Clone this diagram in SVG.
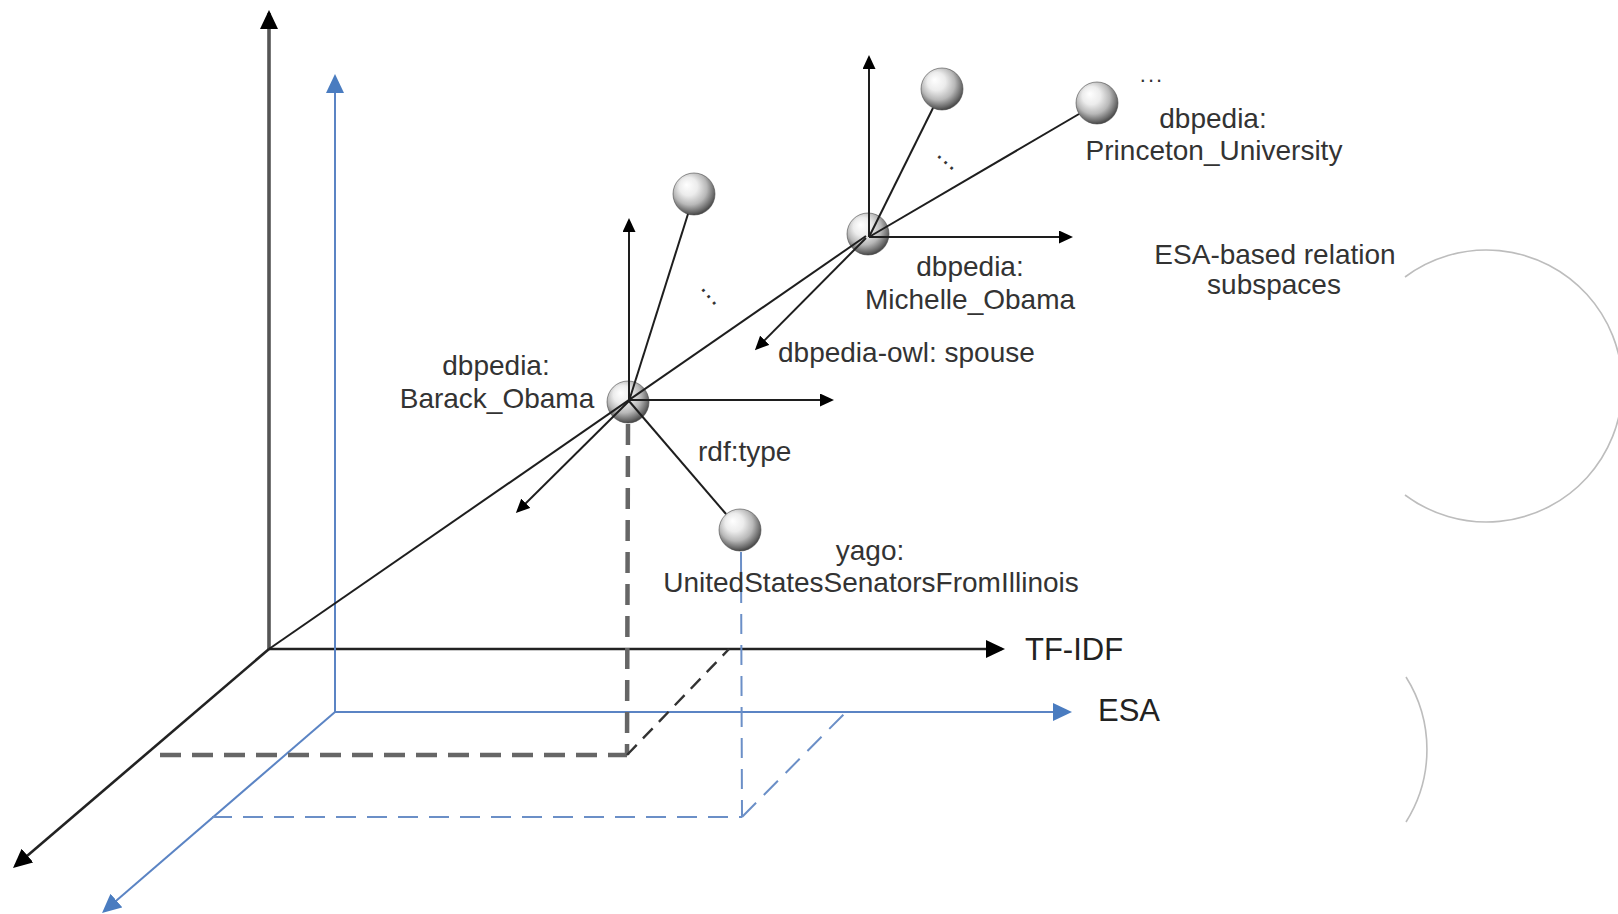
<svg xmlns="http://www.w3.org/2000/svg" width="1618" height="914" viewBox="0 0 1618 914">
  <style>
    text { font-family: "Liberation Sans", Arial, sans-serif; font-size: 28px; fill: #333; }
    .mid { text-anchor: middle; }
    .axis-label { font-size: 31px; fill: #222; }
    .axis-k { stroke: #222; stroke-width: 2.6; fill: none; }
    .axis-kv { stroke: #555; stroke-width: 3.6; fill: none; }
    .axis-b { stroke: #5b84c4; stroke-width: 2; fill: none; }
    .proj-k { stroke: #666; stroke-width: 4.5; stroke-dasharray: 21 11; fill: none; }
    .proj-kd { stroke: #333; stroke-width: 2.4; stroke-dasharray: 14 9; fill: none; }
    .proj-b { stroke: #6b8fc7; stroke-width: 2; stroke-dasharray: 20 11; fill: none; }
    .edge { stroke: #1e1e1e; stroke-width: 2; fill: none; }
    .arc { stroke: #bdbdbd; stroke-width: 1.6; fill: none; }
    .ball { fill: url(#ball); stroke: #4a4a4a; stroke-width: 0.6; }
  </style>
  <defs>
    <radialGradient id="ball" cx="45%" cy="40%" r="62%" fx="32%" fy="28%">
      <stop offset="0%" stop-color="#ffffff"/>
      <stop offset="35%" stop-color="#ececec"/>
      <stop offset="65%" stop-color="#b8b8b8"/>
      <stop offset="88%" stop-color="#6a6a6a"/>
      <stop offset="100%" stop-color="#3c3c3c"/>
    </radialGradient>
    <marker id="ah-big" markerUnits="userSpaceOnUse" markerWidth="19" markerHeight="18" viewBox="0 0 19 18" refX="16" refY="9" orient="auto">
      <path d="M0,0 L19,9 L0,18 z" fill="#000"/>
    </marker>
    <marker id="ah-blue" markerUnits="userSpaceOnUse" markerWidth="19" markerHeight="18" viewBox="0 0 19 18" refX="16" refY="9" orient="auto">
      <path d="M0,0 L19,9 L0,18 z" fill="#4a7cc0"/>
    </marker>
    <marker id="ah-small" markerUnits="userSpaceOnUse" markerWidth="14" markerHeight="13" viewBox="0 0 14 13" refX="11" refY="6.5" orient="auto">
      <path d="M0,0 L14,6.5 L0,13 z" fill="#000"/>
    </marker>
  </defs>

  <!-- outer coordinate frames: TF-IDF (black) and ESA (blue) -->
  <g id="axes">
    <line class="axis-kv" x1="269" y1="649" x2="269" y2="13" marker-end="url(#ah-big)"/>
    <line class="axis-k" x1="269" y1="649" x2="1002" y2="649" marker-end="url(#ah-big)"/>
    <line class="axis-k" x1="269" y1="649" x2="15.3" y2="866" marker-end="url(#ah-big)"/>
    <line class="axis-b" x1="335" y1="712" x2="335" y2="77" marker-end="url(#ah-blue)"/>
    <line class="axis-b" x1="335" y1="712" x2="1069" y2="712" marker-end="url(#ah-blue)"/>
    <line class="axis-b" x1="335" y1="712" x2="104.3" y2="911" marker-end="url(#ah-blue)"/>
    <text class="axis-label" x="1025" y="660">TF-IDF</text>
    <text class="axis-label" x="1098" y="721">ESA</text>
  </g>

  <!-- projections of the entities onto the base planes -->
  <g id="projections">
    <line class="proj-k" x1="160" y1="755" x2="627" y2="755"/>
    <line class="proj-k" x1="628" y1="424" x2="627" y2="755"/>
    <line class="proj-kd" x1="627" y1="755" x2="729" y2="649"/>
    <line class="proj-b" x1="212" y1="817" x2="742" y2="817"/>
    <line class="proj-b" x1="741" y1="552" x2="742" y2="817"/>
    <line class="proj-b" x1="742" y1="817" x2="846" y2="712"/>
  </g>

  <!-- entity nodes -->
  <g id="node-barack">
    <circle class="ball" cx="628" cy="402" r="21"/>
    <text class="mid" x="496" y="375">dbpedia:</text>
    <text class="mid" x="497" y="408">Barack_Obama</text>
  </g>
  <g id="node-barack-neighbour">
    <circle class="ball" cx="694" cy="194" r="21"/>
  </g>
  <g id="node-michelle">
    <circle class="ball" cx="868" cy="234" r="21"/>
    <text class="mid" x="970" y="276">dbpedia:</text>
    <text class="mid" x="970" y="309">Michelle_Obama</text>
  </g>
  <g id="node-michelle-neighbour">
    <circle class="ball" cx="942" cy="89" r="21"/>
  </g>
  <g id="node-princeton">
    <circle class="ball" cx="1097" cy="103" r="21"/>
    <text class="mid" x="1152" y="82" style="font-size:22px;letter-spacing:2px">...</text>
    <text class="mid" x="1213" y="128">dbpedia:</text>
    <text class="mid" x="1214" y="160">Princeton_University</text>
  </g>
  <g id="node-yago">
    <circle class="ball" cx="740" cy="530" r="21"/>
    <text class="mid" x="870" y="560">yago:</text>
    <text class="mid" x="871" y="592">UnitedStatesSenatorsFromIllinois</text>
  </g>

  <!-- relation edges and local relation axes -->
  <g id="connectors">
    <line class="edge" x1="269" y1="649" x2="866" y2="236"/>
    <line class="edge" x1="629" y1="401" x2="629" y2="221" marker-end="url(#ah-small)"/>
    <line class="edge" x1="629" y1="400" x2="831" y2="400" marker-end="url(#ah-small)"/>
    <line class="edge" x1="629" y1="401" x2="518" y2="511" marker-end="url(#ah-small)"/>
    <line class="edge" x1="629" y1="401" x2="688" y2="214"/>
    <line class="edge" x1="629" y1="401" x2="726" y2="514"/>
    <line class="edge" x1="869" y1="237" x2="869" y2="58" marker-end="url(#ah-small)"/>
    <line class="edge" x1="869" y1="237" x2="1070" y2="237" marker-end="url(#ah-small)"/>
    <line class="edge" x1="866" y1="238" x2="757" y2="348" marker-end="url(#ah-small)"/>
    <line class="edge" x1="869" y1="237" x2="933" y2="108"/>
    <line class="edge" x1="869" y1="237" x2="1079" y2="114"/>
    <text x="698" y="461">rdf:type</text>
    <text x="778" y="362">dbpedia-owl: spouse</text>
    <text class="mid" transform="translate(708,298) rotate(50)" style="font-size:26px;letter-spacing:1px">...</text>
    <text class="mid" transform="translate(945,164) rotate(42)" style="font-size:26px;letter-spacing:1px">...</text>
  </g>

  <!-- relation subspace outline -->
  <g id="subspaces">
    <text class="mid" x="1275" y="264">ESA-based relation</text>
    <text class="mid" x="1274" y="294">subspaces</text>
    <path class="arc" d="M1405,277 A136,136 0 1 1 1405,495"/>
    <path class="arc" d="M1406,677 A136,136 0 0 1 1406,822"/>
  </g>
</svg>
